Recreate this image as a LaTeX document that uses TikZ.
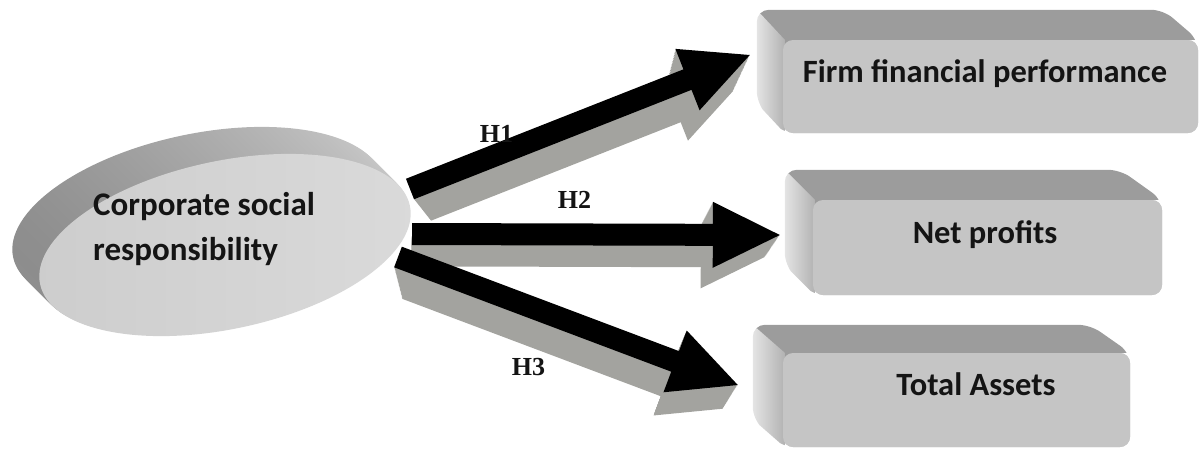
\documentclass[tikz,border=0pt]{standalone}
\usepackage{fontspec}
\setmainfont{Carlito}
\newfontfamily\hfont{Liberation Serif}
\usetikzlibrary{calc,shapes.geometric}
\definecolor{frontgray}{HTML}{C5C5C5}
\definecolor{topgray}{HTML}{9C9C9C}
\definecolor{sidelight}{HTML}{E4E4E4}
\definecolor{sidedark}{HTML}{B2B2B2}
\definecolor{arrowside}{HTML}{A3A39F}
\definecolor{ellfrontL}{HTML}{CDCDCD}
\definecolor{ellfrontR}{HTML}{DADADA}
\definecolor{ellsideD}{HTML}{8C8C8C}
\definecolor{ellsideL}{HTML}{CACACA}
\definecolor{txt}{HTML}{141414}

\tikzset{
  boxfront/.style={rectangle, rounded corners=10pt, fill=frontgray, inner sep=0pt},
  boxlabel/.style={font=\bfseries\fontsize{32.5}{45}\selectfont, text=txt, anchor=base, inner sep=0pt},
  hlabel/.style={font=\hfont\bfseries\fontsize{26}{30}\selectfont, text=txt, anchor=base, inner sep=0pt},
}

% 3D sides of a box: #1 node, #2 dx, #3 dy, #4 inset of back right corner
\newcommand{\boxsides}[4]{%
  \coordinate (#1btl) at ($(#1.north west)+(#2,#3)$);
  \coordinate (#1btr) at ($(#1.north east)+(-#4,#3)$);
  \coordinate (#1bbl) at ($(#1.south west)+(#2,#3)$);
  \begin{scope}
    \clip[rounded corners=12pt] (#1btl) -- (#1btr) -- (#1.north east) -- (#1.south east) -- (#1.south west) -- (#1bbl) -- cycle;
    \fill[topgray] (#1btl) -- (#1btr) -- ($(#1.north east)+(2,0)$) -- ($(#1.north west)+(0,6)$) -- cycle;
    \shade[left color=sidelight, right color=sidedark] (#1btl) -- ($(#1.north west)+(2,0)$) -- ($(#1.south west)+(2,0)$) -- (#1bbl) -- cycle;
  \end{scope}
}

% solid arrow: #1 prefix, #2 start, #3 tip, #4 vanishing point, #5 depth
\newcommand{\solidarrow}[5]{%
  \coordinate (#1h) at ($(#3)!67pt!(#2)$);
  \coordinate (#1a) at ($(#2)!11pt!90:(#3)$);
  \coordinate (#1b) at ($(#1h)!11pt!90:(#3)$);
  \coordinate (#1c) at ($(#1h)!33pt!90:(#3)$);
  \coordinate (#1d) at ($(#1h)!33pt!-90:(#3)$);
  \coordinate (#1e) at ($(#1h)!11pt!-90:(#3)$);
  \coordinate (#1f) at ($(#2)!11pt!-90:(#3)$);
  \foreach \i in {24,23,...,1}{%
    \pgfmathsetmacro{\k}{#5*\i/24}%
    \fill[arrowside] ($(#1a)!\k!(#4)$) -- ($(#1b)!\k!(#4)$) -- ($(#1c)!\k!(#4)$) -- ($(#3)!\k!(#4)$) -- ($(#1d)!\k!(#4)$) -- ($(#1e)!\k!(#4)$) -- ($(#1f)!\k!(#4)$) -- cycle;
  }%
  \fill[black] (#1a) -- (#1b) -- (#1c) -- (#3) -- (#1d) -- (#1e) -- (#1f) -- cycle;
}

\begin{document}
\begin{tikzpicture}[x=1pt,y=-1pt]
\useasboundingbox (0,0) rectangle (1201,448);

% ellipse: extruded side
\foreach \t in {27,26,...,1}{
  \shade[left color=ellsideD, right color=ellsideL, rotate around={12:(225-\t,245-\t)}]
    (225-\t,245-\t) ellipse [x radius=189pt, y radius=84pt];
}
\node[ellipse, minimum width=378pt, minimum height=168pt, inner sep=0pt,
      left color=ellfrontL, right color=ellfrontR, rotate=12] (csr) at (225,245) {};
\node[font=\bfseries\fontsize{33}{45}\selectfont, text=txt, align=left, anchor=base west, inner sep=0pt]
  (csrl) at ($(csr.center)+(-132,15)$) {Corporate social\\responsibility};

% boxes
\node[boxfront, minimum width=415pt, minimum height=93pt] (ffp) at (990.5,86.5) {};
\node[boxfront, minimum width=349pt, minimum height=95pt] (np) at (987.5,247.5) {};
\node[boxfront, minimum width=347pt, minimum height=94pt] (ta) at (956.5,400) {};
\boxsides{ffp}{-26}{-30}{35}
\boxsides{np}{-28}{-30}{42}
\boxsides{ta}{-30}{-28}{40}
\node[boxfront, minimum width=415pt, minimum height=93pt] at (ffp.center) {};
\node[boxfront, minimum width=349pt, minimum height=95pt] at (np.center) {};
\node[boxfront, minimum width=347pt, minimum height=94pt] at (ta.center) {};

\node[boxlabel] (ffpl) at ($(ffp.center)+(-5.5,-4.5)$) {Firm financial performance};
\node[boxlabel] (npl) at ($(np.center)+(-2.5,-4.5)$) {Net profits};
\node[boxlabel] (tal) at ($(ta.center)+(19.5,-5)$) {Total Assets};

% arrows
\coordinate (s1) at ($(csr.center)+(185,-56)$);
\coordinate (s2) at ($(csr.center)+(187,-11)$);
\coordinate (s3) at ($(csr.center)+(173,12)$);
\coordinate (t1) at ($(ffp.west)+(-33,-31.5)$);
\coordinate (t2) at ($(np.west)+(-33,-12.5)$);
\coordinate (t3) at ($(ta.west)+(-45,-15)$);
\coordinate (v1) at (583,414);
\coordinate (v2) at (412,780);
\coordinate (v3) at (515,740);
\solidarrow{aa}{s1}{t1}{v1}{0.1}
\solidarrow{ab}{s2}{t2}{v2}{0.04}
\solidarrow{ac}{s3}{t3}{v3}{0.0667}

\node[hlabel] (h1) at (496.5,142) {H1};
\node[hlabel] (h2) at (574.5,208) {H2};
\node[hlabel] (h3) at (528.5,375) {H3};
\end{tikzpicture}
\end{document}
